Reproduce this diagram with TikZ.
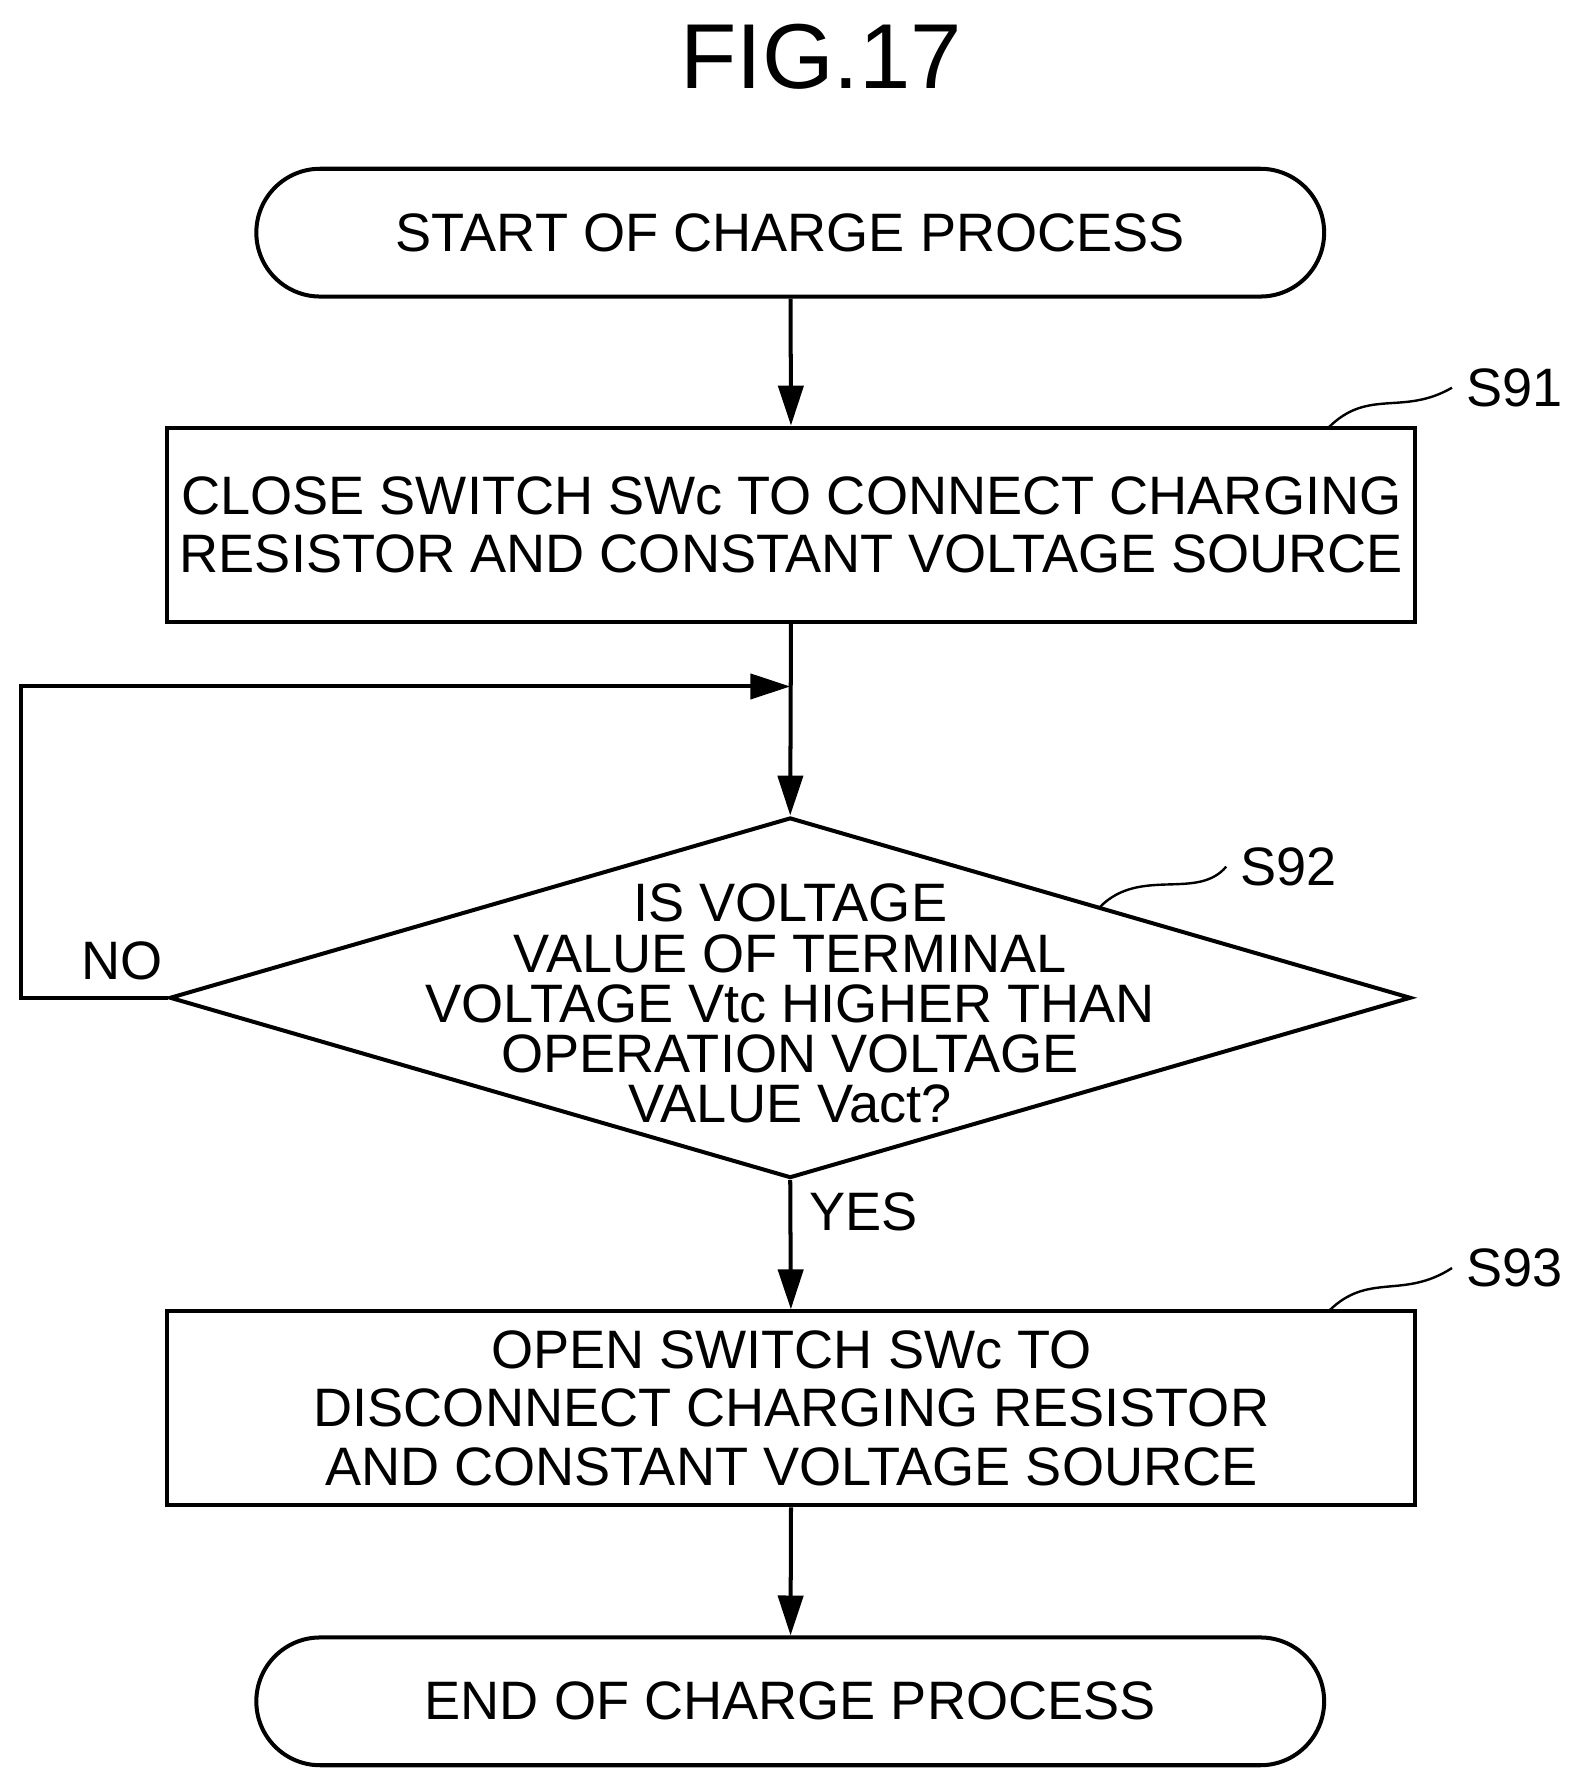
\documentclass[tikz,border=0pt]{standalone}
\usepackage{fontspec}
\setmainfont{Liberation Sans}
\usetikzlibrary{positioning,arrows.meta,shapes.geometric,shapes.misc}
\tikzset{
  line/.style={-{Triangle[length=3.5mm,width=2.2mm]}, line width=1pt},
  box/.style={draw, line width=1pt, align=center, inner sep=3pt, font=\fontsize{13.5}{14.5}\selectfont},
  stepbox/.style={box, minimum width=10.94cm, minimum height=1.70cm},
  term/.style={box, rounded rectangle, minimum width=9.57cm, minimum height=1.12cm},
  cond/.style={box, diamond, inner sep=0pt, minimum width=10.88cm, minimum height=3.16cm},
  tag/.style={font=\fontsize{13.5}{12.5}\selectfont},
  lead/.style={line width=0.6pt}
}
\begin{document}
\begin{tikzpicture}[x=0.01cm,y=-0.01cm]
  \useasboundingbox (0,0) rectangle (1385,1568);
  \node[font=\fontsize{23}{28}\selectfont] (fig) at (720,50) {FIG.17};
  \node[term] (start) at (693,204) {START OF CHARGE PROCESS};
  \node[stepbox] (s91) at (694,460) {CLOSE SWITCH SWc TO CONNECT CHARGING\\RESISTOR AND CONSTANT VOLTAGE SOURCE};
  \node[cond] (s92) at (693,875) {};
  \node[tag, align=center] (q) at (693,880) {IS VOLTAGE\\VALUE OF TERMINAL\\VOLTAGE Vtc HIGHER THAN\\OPERATION VOLTAGE\\VALUE Vact?};
  \node[stepbox] (s93) at (694,1235) {OPEN SWITCH SWc TO\\DISCONNECT CHARGING RESISTOR\\AND CONSTANT VOLTAGE SOURCE};
  \node[term] (end) at (693,1492) {END OF CHARGE PROCESS};
  % step labels
  \node[tag] (l91) at (1328,340) {S91};
  \node[tag] (l92) at (1130,760) {S92};
  \node[tag] (l93) at (1328,1112) {S93};
  \coordinate (j) at (693,602);
  \coordinate (nw) at (18,602);
  \coordinate (sw) at (18,875);
  \node[tag] (no) at (107,843) {NO};
  \node[tag] (yes) at (757,1063) {YES};
  % connectors
  \draw[line] (start) -- (s91);
  \draw[line] (s91) -- (s92.north);
  \draw[line] (s92.south) -- (s93);
  \draw[line] (s93) -- (end);
  \draw[line] (s92.west) -- (sw) -- (nw) -- (j);
  % leaders
  \draw[lead] (1165,375) .. controls (1200,340) and (1230,365) .. (l91.west);
  \draw[lead] (965,795) .. controls (1000,760) and (1050,790) .. (l92.west);
  \draw[lead] (1165,1150) .. controls (1200,1115) and (1230,1140) .. (l93.west);
\end{tikzpicture}
\end{document}
